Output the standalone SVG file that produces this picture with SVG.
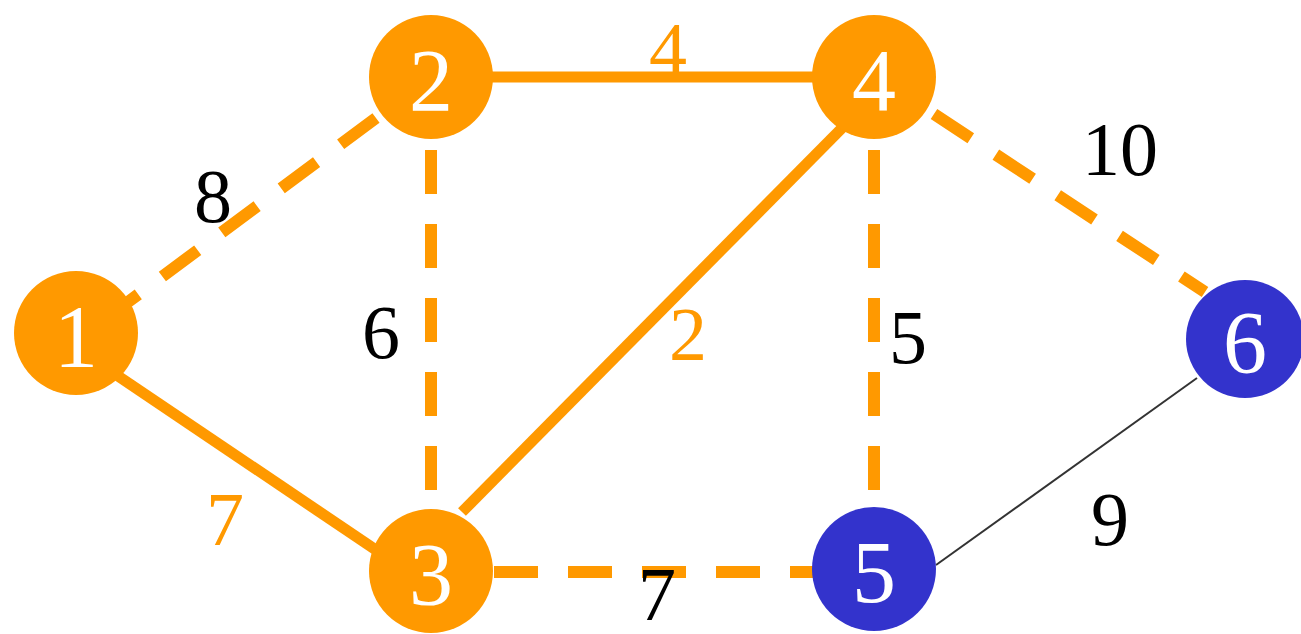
<svg xmlns="http://www.w3.org/2000/svg" width="1301" height="634" viewBox="0 0 1301 634">
<style>
.solid{stroke:#FF9900;stroke-width:11;fill:none}
.dash{stroke:#FF9900;stroke-width:12;fill:none;stroke-dasharray:44 30}
.thin{stroke:#333333;stroke-width:2;fill:none}
.on{fill:#FF9900}
.off{fill:#3333CC}
.nl{font-family:"Liberation Serif",serif;font-size:88px;fill:#FFFFFF;text-anchor:middle}
.el{font-family:"Liberation Serif",serif;font-size:76px;text-anchor:middle}
.blk{fill:#000000}
.org{fill:#FF9900}
</style>
<rect width="1301" height="634" fill="#FFFFFF"/>
<g id="connectors">
<line class="dash" x1="376" y1="118" x2="128" y2="302"/>
<line class="solid" x1="431" y1="77" x2="874" y2="77"/>
<line class="dash" x1="431" y1="150" x2="431" y2="506"/>
<line class="solid" x1="462" y1="512" x2="846" y2="124"/>
<line class="dash" x1="874" y1="150" x2="874" y2="506"/>
<line class="dash" x1="934" y1="114" x2="1205" y2="292"/>
<line class="dash" x1="494" y1="572" x2="814" y2="572"/>
<line class="solid" x1="118" y1="376" x2="376" y2="550"/>
<line class="thin" x1="936" y1="565" x2="1197" y2="378"/>
</g>
<g id="edge-labels">
<text class="el blk" x="213" y="222">8</text>
<text class="el org" x="668" y="75">4</text>
<text class="el blk" x="1120" y="175">10</text>
<text class="el blk" x="381" y="358">6</text>
<text class="el org" x="688" y="360">2</text>
<text class="el blk" x="908" y="363">5</text>
<text class="el org" x="225" y="545">7</text>
<text class="el blk" x="657" y="620" font-size="60">7</text>
<text class="el blk" x="1110" y="545">9</text>
</g>
<g id="node1"><circle class="on" cx="76" cy="333" r="62"/><text class="nl" x="76" y="366">1</text></g>
<g id="node2"><circle class="on" cx="431" cy="77" r="62"/><text class="nl" x="431" y="110">2</text></g>
<g id="node4"><circle class="on" cx="874" cy="77" r="62"/><text class="nl" x="874" y="110">4</text></g>
<g id="node3"><circle class="on" cx="431" cy="571" r="62"/><text class="nl" x="431" y="604">3</text></g>
<g id="node5"><circle class="off" cx="874" cy="569" r="62"/><text class="nl" x="874" y="602">5</text></g>
<g id="node6"><circle class="off" cx="1245" cy="339" r="59"/><text class="nl" x="1245" y="372">6</text></g>
</svg>
